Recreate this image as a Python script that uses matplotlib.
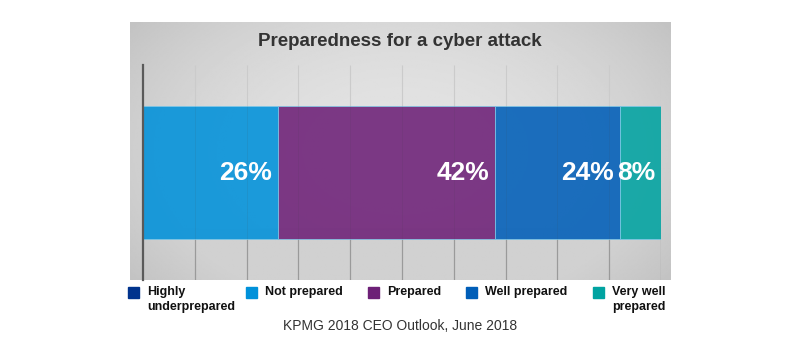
import numpy as np
import matplotlib.pyplot as plt
from matplotlib.patches import Rectangle

plt.rcParams['font.family'] = ['Liberation Sans', 'DejaVu Sans']

categories = ['Highly\nunderprepared', 'Not prepared', 'Prepared', 'Well prepared', 'Very well\nprepared']
values = [0, 26, 42, 24, 8]
bar_colors = ['#00338D', '#0091DA', '#6D2077', '#005EB8', '#00A3A1']
legend_x = [128, 246, 368, 466, 593]

fig = plt.figure(figsize=(8.1, 3.52), dpi=100)
W, H = 810, 352

# gray gradient panel behind the chart
bg = fig.add_axes([130 / W, 1 - 280 / H, 541 / W, 258 / H])
yy, xx = np.mgrid[-1:1:200j, -1:1:400j]
r = np.sqrt((xx / 1.1) ** 2 + (yy / 1.5) ** 2)
shade = 0.89 - 0.10 * r ** 2
shade[yy > 0.6] = np.minimum(shade[yy > 0.6], 0.82)
bg.imshow(shade, cmap='gray', vmin=0, vmax=1, aspect='auto', extent=[0, 1, 0, 1])
bg.axis('off')

ax = fig.add_axes([143 / W, 1 - 280 / H, 518 / W, 215 / H])
ax.patch.set_alpha(0)
ax.set_xlim(0, 100)
ax.set_ylim(-0.5, 0.5)
bh = 0.614
grid_x = list(range(10, 101, 10))
ax.vlines(grid_x, bh / 2, 0.5, color='#cbcbcb', lw=0.8, zorder=1)
ax.vlines(grid_x, -0.5, -bh / 2, color='#9a9a9a', lw=0.9, zorder=1)

left = 0
for v, c in zip(values, bar_colors):
    if v > 0:
        ax.barh(0, v, left=left, height=bh, color=c, alpha=0.88,
                edgecolor='#7fc8e8', lw=0.6, zorder=2)
        ax.text(left + v - 1.1, 0, f'{v}%', ha='right', va='center',
                color='white', fontsize=19, fontweight='bold', zorder=3)
    left += v
ax.vlines(grid_x, -bh / 2, bh / 2, color='#404040', lw=0.5, alpha=0.12, zorder=2.5)

for s in ['top', 'right', 'bottom']:
    ax.spines[s].set_visible(False)
ax.spines['left'].set_color('#5a5a5a')
ax.spines['left'].set_linewidth(1.6)
ax.set_xticks([])
ax.set_yticks([])

fig.text(400 / W, 1 - 42 / H, 'Preparedness for a cyber attack', ha='center',
         va='center', fontsize=13.5, fontweight='bold', color='#333333')

for lab, c, x in zip(categories, bar_colors, legend_x):
    fig.patches.append(Rectangle((x / W, 1 - 298 / H), 11 / W, 11 / H,
                                 color=c, transform=fig.transFigure))
    fig.text((x + 19) / W, 1 - 286 / H, lab, ha='left', va='top',
             fontsize=9, fontweight='bold', color='#111111', linespacing=1.3)

fig.text(400 / W, 1 - 326 / H, 'KPMG 2018 CEO Outlook, June 2018', ha='center',
         va='center', fontsize=10, color='#333333')

fig.savefig('out.png', dpi=100)
